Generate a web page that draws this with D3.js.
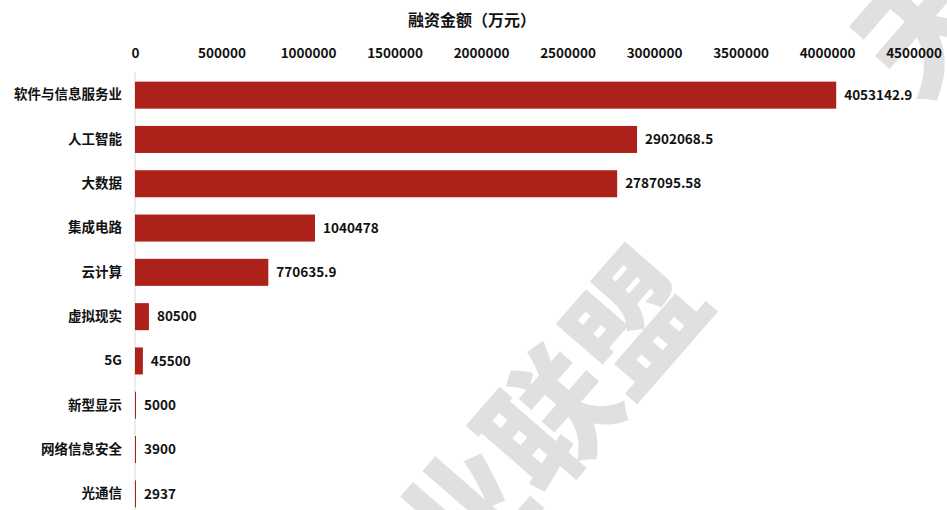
<!DOCTYPE html>
<html lang="zh">
  <head>
    <meta charset="UTF-8" />
    <title>融资金额</title>
    <style>
      body { margin: 0; background: #fff; }
      svg { display: block; font-family: "Noto Sans CJK SC", "Noto Sans", sans-serif; }
      .tick line, .domain { display: none; }
    </style>
  </head>
  <body>
    <svg width="947" height="510"></svg>
    <script src="https://cdn.jsdelivr.net/npm/d3@7/dist/d3.min.js"></script>
    <script>
      var categories = ["软件与信息服务业", "人工智能", "大数据", "集成电路", "云计算", "虚拟现实", "5G", "新型显示", "网络信息安全", "光通信"];
      var values = [4053142.9, 2902068.5, 2787095.58, 1040478, 770635.9, 80500, 45500, 5000, 3900, 2937];
      var valueLabels = ["4053142.9", "2902068.5", "2787095.58", "1040478", "770635.9", "80500", "45500", "5000", "3900", "2937"];
      var xTicks = [0, 500000, 1000000, 1500000, 2000000, 2500000, 3000000, 3500000, 4000000, 4500000];
      var title = "融资金额（万元）";

      var svg = d3.select("svg"),
        width = +svg.attr("width"),
        height = +svg.attr("height");

      // watermark first so it sits under the text
      var wm = svg.append("g").attr("fill", "#e0e0e0").attr("font-weight", 900);
      wm.append("text")
        .attr("transform", "translate(500,462) rotate(-49)")
        .attr("text-anchor", "middle")
        .attr("dominant-baseline", "central")
        .attr("font-size", 130)
        .text("产业联盟");
      wm.append("text")
        .attr("transform", "translate(918,18) rotate(-49)")
        .attr("text-anchor", "middle")
        .attr("dominant-baseline", "central")
        .attr("font-size", 130)
        .text("天");

      var x = d3.scaleLinear().domain([0, 4500000]).range([135, 913.5]);
      var y = d3.scaleBand().domain(categories).range([73, 516]).paddingInner(0.39).paddingOuter(0.195);

      svg.append("text")
        .attr("x", 472)
        .attr("y", 26)
        .attr("text-anchor", "middle")
        .attr("font-size", 16)
        .attr("font-weight", "bold")
        .attr("fill", "#111")
        .text(title);

      var xAxis = svg.append("g")
        .attr("transform", "translate(0,61)")
        .call(d3.axisTop(x).tickValues(xTicks).tickFormat(d3.format("d")).tickSize(0));
      xAxis.selectAll("text")
        .attr("font-size", 13.5)
        .attr("font-weight", "bold")
        .attr("fill", "#111")
        .attr("font-family", "'Noto Sans CJK SC', sans-serif");

      // vertical baseline
      svg.append("line")
        .attr("x1", x(0)).attr("x2", x(0))
        .attr("y1", 72).attr("y2", height)
        .attr("stroke", "#d9d9d9");

      var yAxis = svg.append("g")
        .attr("transform", "translate(" + (x(0) - 13) + ",0)")
        .call(d3.axisLeft(y).tickSize(0).tickPadding(0));
      yAxis.selectAll("text")
        .attr("font-size", 13.5)
        .attr("font-weight", "bold")
        .attr("fill", "#111")
        .attr("font-family", "'Noto Sans CJK SC', sans-serif");

      var rows = categories.map(function (c, i) {
        return { name: c, value: values[i], label: valueLabels[i] };
      });

      svg.append("g")
        .selectAll("rect")
        .data(rows)
        .enter()
        .append("rect")
        .attr("x", x(0))
        .attr("y", function (d) { return y(d.name); })
        .attr("width", function (d) { return Math.max(1, x(d.value) - x(0)); })
        .attr("height", y.bandwidth())
        .attr("fill", "#ac2119");

      svg.append("g")
        .selectAll("text")
        .data(rows)
        .enter()
        .append("text")
        .attr("x", function (d) { return Math.max(x(d.value), x(0) + 1) + 8; })
        .attr("y", function (d) { return y(d.name) + y.bandwidth() / 2; })
        .attr("dy", "0.35em")
        .attr("font-size", 13.5)
        .attr("font-weight", "bold")
        .attr("fill", "#111")
        .text(function (d) { return d.label; });
    </script>
  </body>
</html>
